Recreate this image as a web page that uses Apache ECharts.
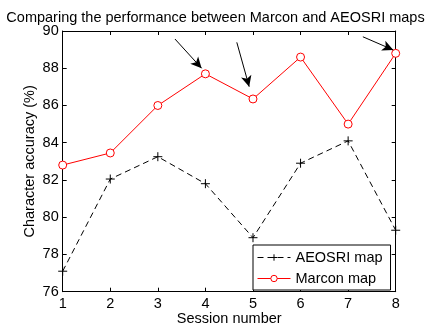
<!DOCTYPE html>
<html>
<head>
<meta charset="utf-8">
<script src="https://cdn.jsdelivr.net/npm/echarts@6/dist/echarts.min.js"></script>
<style>
  html, body { margin: 0; padding: 0; background: #fff; }
  #chart { width: 431px; height: 327px; }
</style>
</head>
<body>
<div id="chart"></div>
<script>
// Session numbers on the x axis
const sessions = [1, 2, 3, 4, 5, 6, 7, 8];
// Character accuracy (%) per session
const aeosriValues = [77.1, 82.05, 83.25, 81.8, 78.9, 82.9, 84.1, 79.3];
const marconValues = [82.8, 83.45, 86.0, 87.7, 86.35, 88.6, 85.0, 88.8];
// Y-axis ticks
const yTicks = [76, 78, 80, 82, 84, 86, 88, 90];
// Highlight arrows: [startSession, startAcc, endSession, endAcc]
const arrows = [
  [3.36, 89.57, 3.92, 88.0],
  [4.66, 89.39, 4.92, 87.01],
  [7.31, 89.69, 7.95, 88.98]
];

const font = '"Liberation Sans", Arial, sans-serif';
const fs = 14.5;
const chart = echarts.init(document.getElementById('chart'));

const pair = arr => arr.map((v, j) => [sessions[j], v]);

const baseAxis = {
  axisLine: { show: true, onZero: false, lineStyle: { color: '#000', width: 1 } },
  axisTick: { show: true, inside: true, length: 4, lineStyle: { color: '#000' } },
  splitLine: { show: false }
};

chart.setOption({
  animation: false,
  backgroundColor: '#fff',
  title: {
    text: 'Comparing the performance between Marcon and AEOSRI maps',
    left: 'center',
    top: 5,
    textStyle: { fontFamily: font, fontSize: fs, fontWeight: 'normal', color: '#000' }
  },
  legend: {
    data: ['AEOSRI map', 'Marcon map'],
    orient: 'vertical',
    left: 253,
    top: 245,
    itemWidth: 33,
    itemHeight: 8,
    itemGap: 6,
    padding: [5, 8, 4, 4],
    backgroundColor: '#fff',
    borderColor: '#000',
    borderWidth: 1,
    borderRadius: 0,
    lineStyle: { width: 1 },
    itemStyle: { borderWidth: 1 },
    textStyle: { fontFamily: font, fontSize: fs, color: '#000' }
  },
  grid: { left: 62.7, right: 35.3, top: 31, bottom: 35.3, containLabel: false, outerBoundsMode: 'none' },
  xAxis: [
    Object.assign({}, baseAxis, {
      type: 'value', min: 1, max: 8, interval: 1, position: 'bottom',
      name: 'Session number', nameLocation: 'middle', nameGap: 20, nameMoveOverlap: false,
      nameTextStyle: { fontFamily: font, fontSize: fs, color: '#000' },
      axisLabel: { fontFamily: font, fontSize: fs, color: '#000', margin: 5 }
    }),
    Object.assign({}, baseAxis, {
      type: 'value', min: 1, max: 8, interval: 1, position: 'top',
      axisLabel: { show: false }
    })
  ],
  yAxis: [
    Object.assign({}, baseAxis, {
      type: 'value', min: yTicks[0], max: yTicks[yTicks.length - 1], interval: 2, position: 'left',
      name: 'Character accuracy (%)', nameLocation: 'middle', nameGap: 25, nameMoveOverlap: false,
      nameTextStyle: { fontFamily: font, fontSize: fs, color: '#000' },
      axisLabel: { fontFamily: font, fontSize: fs, color: '#000', margin: 4 }
    }),
    Object.assign({}, baseAxis, {
      type: 'value', min: yTicks[0], max: yTicks[yTicks.length - 1], interval: 2, position: 'right',
      axisLabel: { show: false }
    })
  ],
  series: [
    {
      name: 'AEOSRI map',
      type: 'line',
      data: pair(aeosriValues),
      symbol: 'path://M5,0L5,10M0,5L10,5',
      symbolSize: 9,
      showAllSymbol: true,
      itemStyle: { color: '#000', borderColor: '#000', borderWidth: 1 },
      lineStyle: { color: '#000', width: 1, type: [6, 4] },
      z: 2
    },
    {
      name: 'Marcon map',
      type: 'line',
      data: pair(marconValues),
      symbol: 'circle',
      symbolSize: 8,
      itemStyle: { color: '#fff', borderColor: '#ff0000', borderWidth: 1 },
      lineStyle: { color: '#ff0000', width: 1 },
      z: 3,
      markLine: {
        silent: true,
        symbol: ['none', 'arrow'],
        symbolSize: [8, 11],
        label: { show: false },
        lineStyle: { color: '#000', width: 1, type: 'solid' },
        data: arrows.map(a => [{ coord: [a[0], a[1]] }, { coord: [a[2], a[3]] }])
      }
    }
  ]
});
</script>
</body>
</html>
